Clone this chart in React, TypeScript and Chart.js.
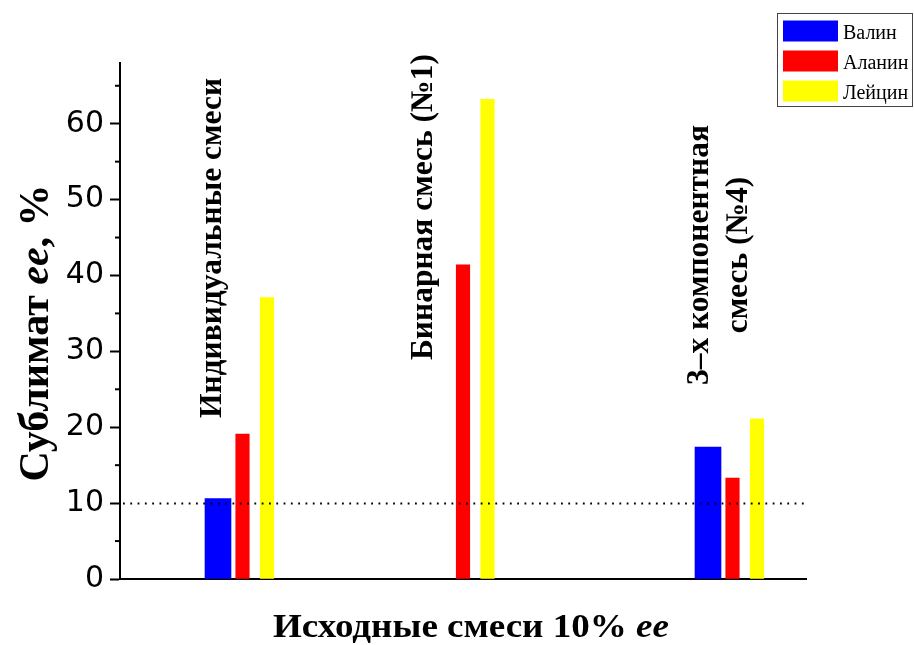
import React, { useEffect, useRef } from "react";
import { Chart, registerables } from "chart.js";

Chart.register(...registerables);

// ---- data ----
const seriesNames = ["Валин", "Аланин", "Лейцин"];
const seriesColors = ["#0000ff", "#ff0000", "#ffff00"];
// x positions (axis units) of the bars for each series
const valineX = [4, 24];
const valineY = [10.6, 17.4];
const alanineX = [5, 14, 25];
const alanineY = [19.1, 41.4, 13.3];
const leucineX = [6, 15, 26];
const leucineY = [37.1, 63.2, 21.1];
const yTicks = [0, 10, 20, 30, 40, 50, 60];
const referenceLevel = 10;
const groupLabels = [
  { lines: ["Индивидуальные смеси"] },
  { lines: ["Бинарная смесь (№1)"] },
  { lines: ["3–х компонентная", "смесь (№4)"] },
];
const xTitleMain = "Исходные смеси 10% ";
const xTitleItalic = "ee";
const yTitleParts = ["Сублимат ", "ee", ", %"];

const SERIF = "'Liberation Serif', 'Times New Roman', serif";

const overlayPlugin = {
  id: "overlay",
  afterDatasetsDraw(chart: any) {
    const { ctx, chartArea } = chart;
    const y = chart.scales.y;
    ctx.save();
    // dotted reference line
    ctx.strokeStyle = "#000";
    ctx.lineWidth = 1.8;
    ctx.setLineDash([1.8, 5.5]);
    const ry = Math.round(y.getPixelForValue(referenceLevel)) + 0.5;
    ctx.beginPath();
    ctx.moveTo(chartArea.left + 3, ry);
    ctx.lineTo(chartArea.right, ry);
    ctx.stroke();
    ctx.setLineDash([]);
    // minor ticks
    ctx.lineWidth = 2;
    for (let v = 5; v < y.max; v += 10) {
      const py = y.getPixelForValue(v);
      ctx.beginPath();
      ctx.moveTo(chartArea.left - 5, py);
      ctx.lineTo(chartArea.left, py);
      ctx.stroke();
    }
    ctx.restore();
  },
  afterDraw(chart: any) {
    const { ctx } = chart;
    ctx.save();
    ctx.fillStyle = "#000";
    // in-plot rotated group labels
    ctx.font = `bold 31.5px ${SERIF}`;
    ctx.textAlign = "center";
    ctx.textBaseline = "alphabetic";
    const labelPos = [
      { bx: [221], cy: 248 },
      { bx: [432], cy: 207 },
      { bx: [707.5, 746.5], cy: 255 },
    ];
    groupLabels.forEach((g, i) => {
      g.lines.forEach((line, j) => {
        ctx.save();
        ctx.translate(labelPos[i].bx[j], labelPos[i].cy);
        ctx.rotate(-Math.PI / 2);
        ctx.fillText(line, 0, 0);
        ctx.restore();
      });
    });

    // x title
    ctx.textAlign = "left";
    const xMain = `bold 34px ${SERIF}`;
    const xIt = `italic bold 34px ${SERIF}`;
    ctx.font = xMain;
    const w1 = ctx.measureText(xTitleMain).width;
    ctx.font = xIt;
    const w2 = ctx.measureText(xTitleItalic).width;
    const stretch = 396 / (w1 + w2);
    ctx.save();
    ctx.translate(471, 637);
    ctx.scale(stretch, 1);
    let sx = -(w1 + w2) / 2;
    ctx.font = xMain;
    ctx.fillText(xTitleMain, sx, 0);
    ctx.font = xIt;
    ctx.fillText(xTitleItalic, sx + w1, 0);
    ctx.restore();

    // y title (rotated)
    const yMain = `bold 42px ${SERIF}`;
    const yIt = `italic bold 42px ${SERIF}`;
    const fonts = [yMain, yIt, yMain];
    let total = 0;
    const widths = yTitleParts.map((p, i) => {
      ctx.font = fonts[i];
      const w = ctx.measureText(p).width;
      total += w;
      return w;
    });
    ctx.save();
    ctx.translate(48, 333);
    ctx.rotate(-Math.PI / 2);
    let px = -total / 2;
    yTitleParts.forEach((p, i) => {
      ctx.font = fonts[i];
      ctx.fillText(p, px, 0);
      px += widths[i];
    });
    ctx.restore();

    // legend
    ctx.strokeStyle = "#444";
    ctx.lineWidth = 1;
    ctx.strokeRect(777.5, 13.5, 135, 93);
    ctx.font = `20px ${SERIF}`;
    ctx.textBaseline = "alphabetic";
    seriesNames.forEach((n, i) => {
      const top = 20.5 + i * 30;
      ctx.fillStyle = seriesColors[i];
      ctx.fillRect(783, top, 55, 21);
      ctx.fillStyle = "#000";
      ctx.fillText(n, 843, top + 18.7);
    });
    ctx.restore();
  },
};

export default function App() {
  const ref = useRef<HTMLCanvasElement | null>(null);
  useEffect(() => {
    if (!ref.current) return;
    const mk = (xs: number[], ys: number[]) => xs.map((xv, i) => ({ x: xv, y: ys[i] }));
    const chart = new Chart(ref.current, {
      type: "bar",
      data: {
        datasets: [
          { label: seriesNames[0], data: mk(valineX, valineY), backgroundColor: seriesColors[0], barThickness: 26, grouped: false },
          { label: seriesNames[1], data: mk(alanineX, alanineY), backgroundColor: seriesColors[1], barThickness: 13.5, grouped: false },
          { label: seriesNames[2], data: mk(leucineX, leucineY), backgroundColor: seriesColors[2], barThickness: 13.5, grouped: false },
        ] as any,
      },
      options: {
        responsive: false,
        animation: false,
        layout: { padding: { top: 63, right: 108, left: 0, bottom: 0 } },
        plugins: { legend: { display: false }, tooltip: { enabled: false } },
        scales: {
          x: {
            type: "linear",
            min: 0,
            max: 28,
            offset: false,
            ticks: { display: false },
            grid: { display: false },
            border: { display: true, color: "#000", width: 2 },
            afterFit: (s: any) => {
              s.height = 66;
            },
          },
          y: {
            type: "linear",
            min: 0,
            max: 68,
            ticks: {
              stepSize: 10,
              padding: 6,
              color: "#000",
              font: { family: "'DejaVu Sans'", size: 30 },
            },
            afterBuildTicks: (s: any) => {
              s.ticks = yTicks.map((v) => ({ value: v }));
            },
            grid: {
              display: true,
              drawOnChartArea: false,
              drawTicks: true,
              tickLength: 10,
              tickWidth: 2,
              tickColor: "#000",
            },
            border: { display: true, color: "#000", width: 2 },
            afterFit: (s: any) => {
              s.width = 120;
            },
          },
        },
      } as any,
      plugins: [overlayPlugin],
    });
    return () => chart.destroy();
  }, []);
  return (
    <div style={{ position: "absolute", left: 0, top: 0, width: 914, height: 645, background: "#fff" }}>
      <canvas ref={ref} width={914} height={645} />
    </div>
  );
}
